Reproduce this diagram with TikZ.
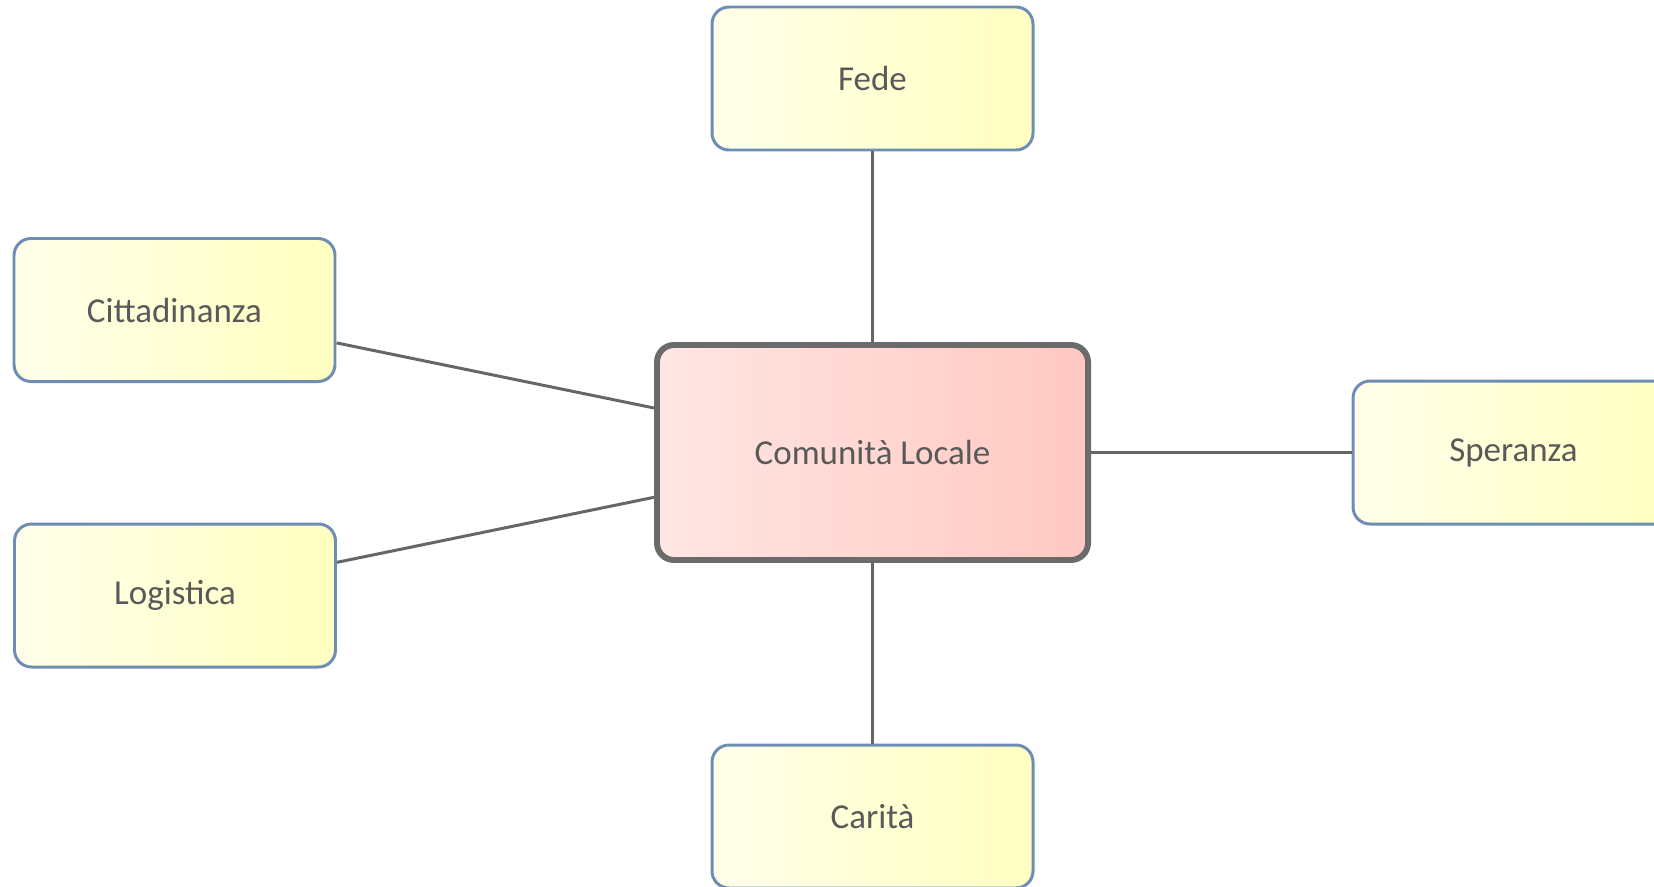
\documentclass[tikz,border=0pt]{standalone}
\usepackage{fontspec}
\setmainfont{Carlito}
\usetikzlibrary{positioning}

\definecolor{leafline}{HTML}{6E8DB5}
\definecolor{leafleft}{HTML}{FFFFEA}
\definecolor{leafmid}{HTML}{FFFFDC}
\definecolor{leafright}{HTML}{FFFFC0}
\definecolor{hubline}{HTML}{6B6B6B}
\definecolor{hubleft}{HTML}{FFE6E3}
\definecolor{hubmid}{HTML}{FFE0DC}
\definecolor{hubright}{HTML}{FFC8C2}
\definecolor{textgray}{HTML}{595959}
\definecolor{linkgray}{HTML}{666666}

\tikzset{
  leaf/.style={draw=leafline,line width=1.7pt,rounded corners=0.34cm,
    left color=leafleft,middle color=leafmid,right color=leafright,
    minimum width=6.42cm,minimum height=2.86cm,text=textgray,
    font=\fontsize{19.9pt}{24pt}\selectfont},
  hub/.style={draw=hubline,line width=3.4pt,rounded corners=0.34cm,
    left color=hubleft,middle color=hubmid,right color=hubright,
    minimum width=8.62cm,minimum height=4.3cm,text=textgray,
    font=\fontsize{19.9pt}{24pt}\selectfont},
  link/.style={draw=linkgray,line width=1.7pt}
}

\begin{document}
\begin{tikzpicture}
\useasboundingbox (0,0) rectangle (33.08,-17.72);

\node[hub]  (locale)   at (17.45, -9.05) {Comunità Locale};
\node[leaf] (fede)     at (17.45, -1.57) {Fede};
\node[leaf] (citta)    at ( 3.49, -6.20) {Cittadinanza};
\node[leaf] (logist)   at ( 3.50,-11.91) {Logistica};
\node[leaf] (speranza) at (30.27, -9.05) {Speranza};
\node[leaf] (carita)   at (17.45,-16.33) {Carità};

\draw[link] (locale)--(fede);
\draw[link] (locale)--(citta);
\draw[link] (locale)--(logist);
\draw[link] (locale)--(speranza);
\draw[link] (locale)--(carita);

\end{tikzpicture}
\end{document}
